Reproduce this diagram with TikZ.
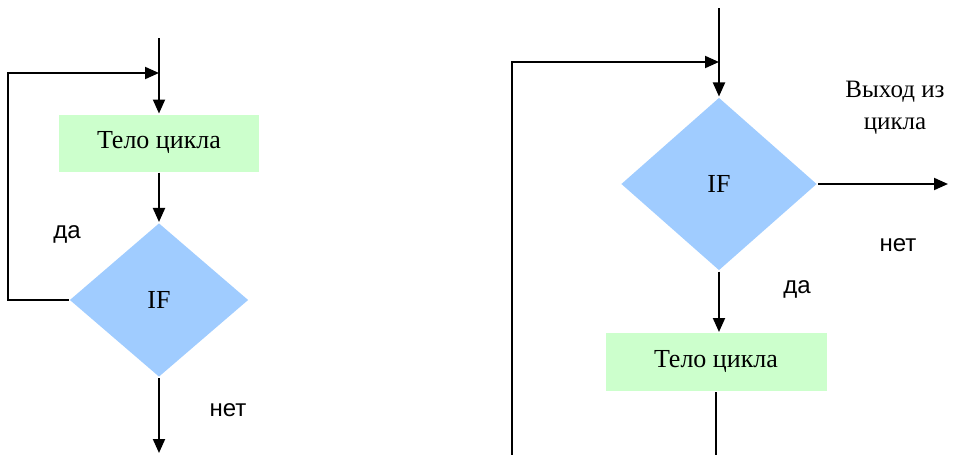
\documentclass[tikz,border=0pt]{standalone}
\usepackage{fontspec}
\setmainfont{Liberation Serif}
\newfontfamily\labelfont{Liberation Sans}
\usetikzlibrary{shapes.geometric, arrows.meta}
\definecolor{colorBody}{HTML}{CCFFCC}
\definecolor{colorIf}{HTML}{A0CCFF}

\begin{document}
\begin{tikzpicture}[x=0.5pt, y=-0.5pt, line width=1pt,
        body/.style={fill=colorBody, inner sep=0pt, font=\fontsize{13}{15}\selectfont},
        cond/.style={diamond, fill=colorIf, inner sep=0pt, font=\fontsize{13}{15}\selectfont},
        lbl/.style={font=\labelfont\fontsize{12}{14}\selectfont},
        >={Triangle[length=7pt,width=6pt]}]
        \useasboundingbox (0,0) rectangle (966,455);

        % left loop: body first, then IF
        \node[body, minimum width=100pt, minimum height=28.5pt] (body1) at (159,143) {Тело цикла};
        \node[cond, minimum width=89.5pt, minimum height=77pt] (if1) at (159,300) {IF};
        \coordinate (in1) at (159,38);
        \coordinate (join1) at (159,73);
        \coordinate (loop1) at (8,73);
        \coordinate (out1) at (159,453);
        \draw[->] (in1) -- (body1);
        \draw[->] (body1) -- (if1);
        \draw[->] (if1.west) -| (loop1) -- (join1);
        \draw[->] (if1) -- (out1);
        \node[lbl] (yes1) at (67,234) {да};
        \node[lbl] (no1) at (228,410) {нет};

        % right loop: IF first, then body
        \node[cond, minimum width=98pt, minimum height=86.5pt] (if2) at (719,184) {IF};
        \node[body, minimum width=110.5pt, minimum height=29pt] (body2) at (716,362) {Тело цикла};
        \coordinate (in2) at (719,8);
        \coordinate (join2) at (719,62);
        \coordinate (loop2) at (512,62);
        \coordinate (start2) at (512,455);
        \coordinate (end2) at (716,455);
        \coordinate (exit2) at (948,184);
        \draw[->] (in2) -- (if2);
        \draw[->] (if2.south) -- (if2.south |- body2.north);
        \draw (body2) -- (end2);
        \draw[->] (start2) -- (loop2) -- (join2);
        \draw[->] (if2.east) -- (exit2);
        \node[align=center, font=\fontsize{12.5}{16}\selectfont] (exitlbl) at (895,108) {Выход из\\цикла};
        \node[lbl] (no2) at (898,245) {нет};
        \node[lbl] (yes2) at (797,289) {да};
\end{tikzpicture}
\end{document}
